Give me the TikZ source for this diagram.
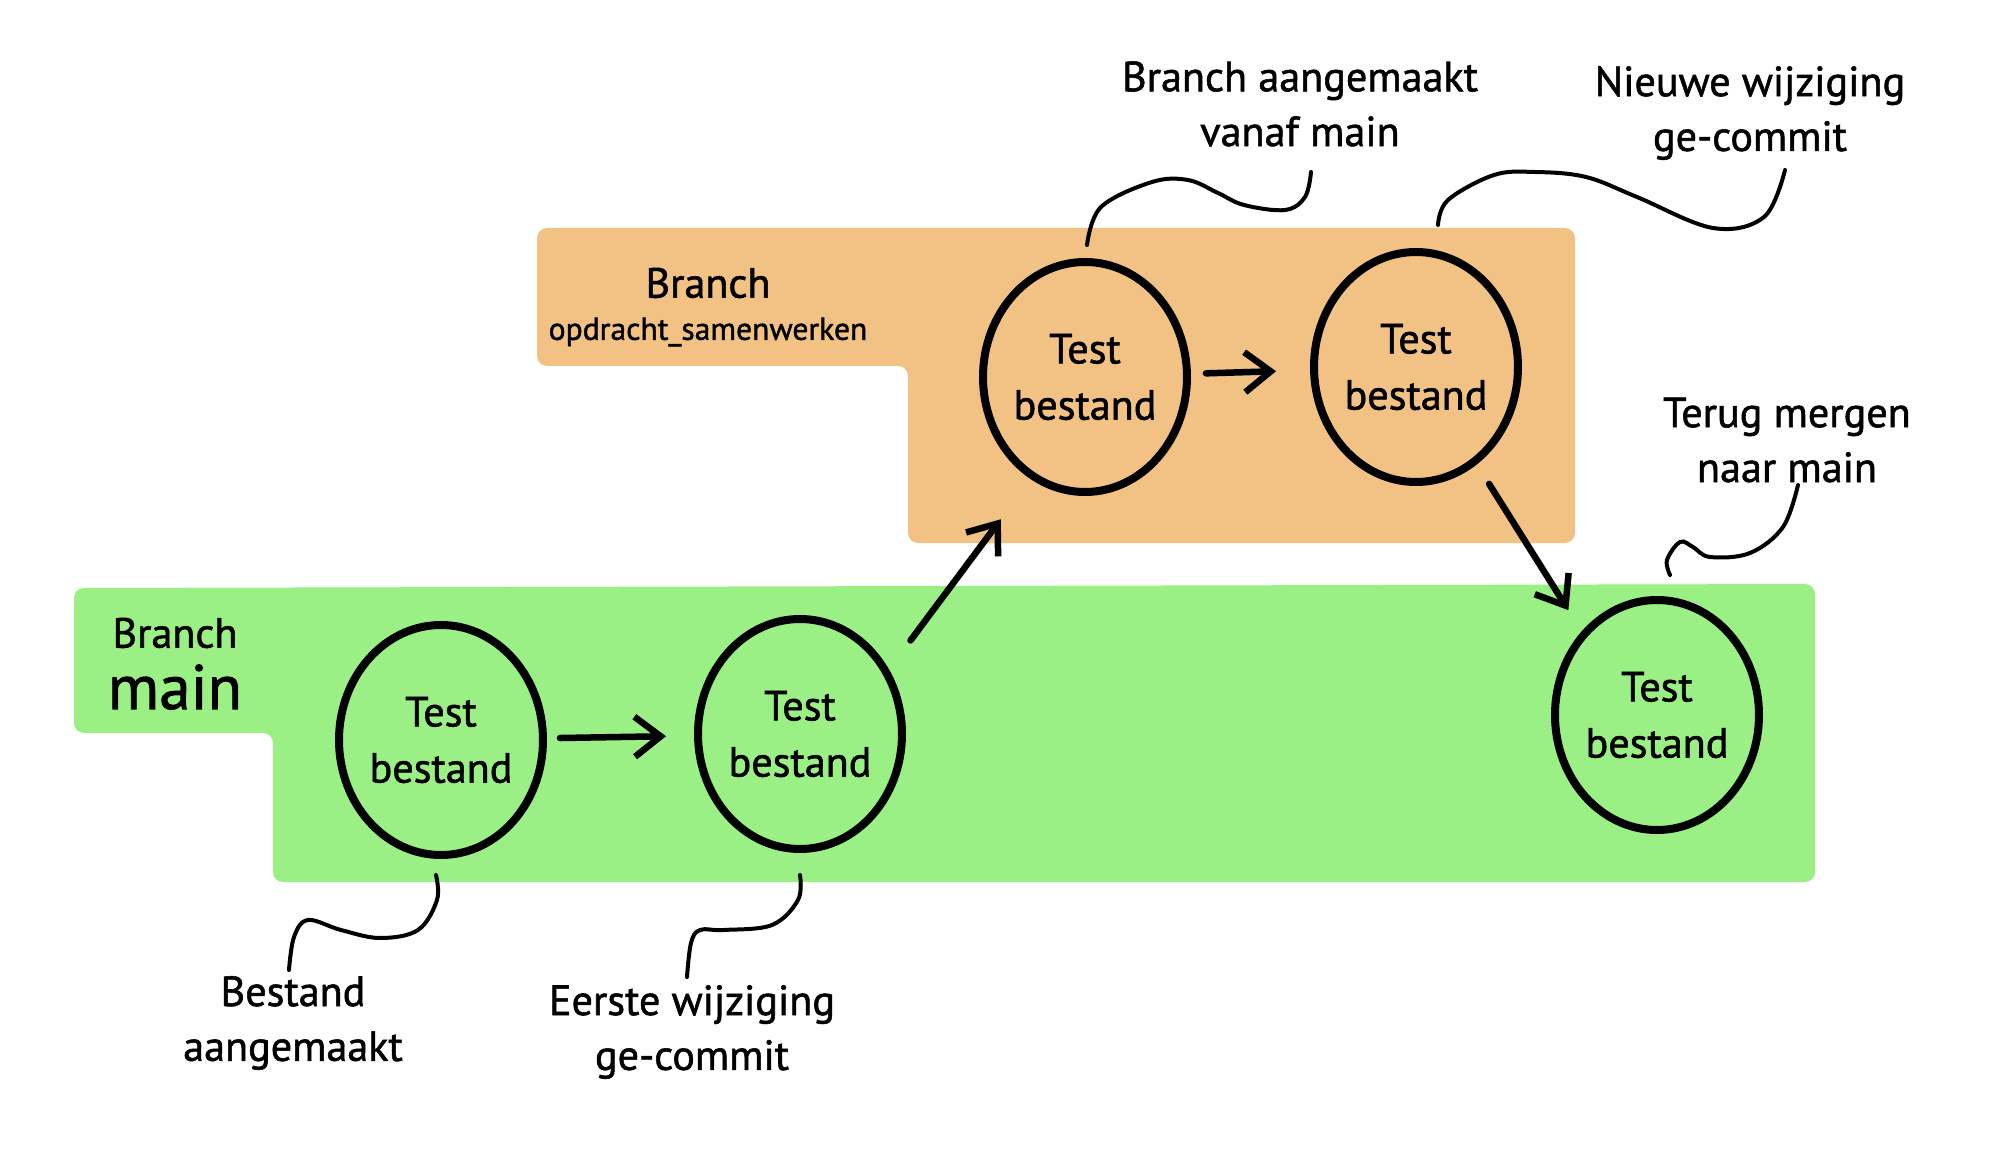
\documentclass[tikz,border=0pt]{standalone}
\usepackage{fontspec}
\setmainfont{PT Sans}[FakeBold=1.3]
\usepackage{tikz}
\usetikzlibrary{arrows.meta,positioning,shapes.geometric}
\definecolor{oranje}{HTML}{F1C283}
\definecolor{groen}{HTML}{9AF084}
\tikzstyle{commit} = [draw, ellipse, line width=0.8mm, minimum width=20.4mm, minimum height=23mm, inner sep=0pt, align=center, font=\fontsize{12}{16}\selectfont]
\tikzstyle{pijl} = [line width=0.65mm, line cap=round, -{Straight Barb[length=2.6mm,width=4mm]}]
\tikzstyle{krul} = [line width=0.4mm, line cap=round]
\tikzstyle{uitleg} = [align=center, font=\fontsize{12}{15.6}\selectfont]
\tikzstyle{titel} = [inner sep=0pt, font=\fontsize{12}{14}\selectfont]

\begin{document}
\begin{tikzpicture}[x=0.1mm, y=-0.1mm, node distance=1.3cm]
		\useasboundingbox (0,0) rectangle (1992,1171);
		% vlakken
		\fill[oranje, rounded corners=1mm] (537,228) -- (1575,228) -- (1575,543) -- (908,543) -- (908,366) -- (537,366) -- cycle;	% branch opdracht_samenwerken
		\fill[groen, rounded corners=1mm] (74,588) -- (1815,584) -- (1815,882) -- (273,882) -- (273,733) -- (74,733) -- cycle;		% branch main
		
		% nodes
		\node[titel] (oranjetitel) at (708,283) {Branch};						% titel oranje vlak
		\node[titel, below of=oranjetitel, node distance=4.9mm] (oranjenaam) {\fontsize{9}{11}\selectfont opdracht\_samenwerken};
		\node[titel] (groentitel) at (175,633) {Branch};						% titel groen vlak
		\node[titel, below of=groentitel, node distance=5.4mm] (groennaam) {\fontsize{18}{20}\selectfont main};
		\node[commit] (c1) at (441,740) {Test\\bestand};						% eerste commit
		\node[commit, right of=c1, node distance=35.9mm, yshift=0.6mm] (c2) {Test\\bestand};
		\node[commit] (c3) at (1085,377) {Test\\bestand};						% commit op branch
		\node[commit, right of=c3, node distance=33.1mm, yshift=1mm] (c4) {Test\\bestand};
		\node[commit] (c5) at (1657,715) {Test\\bestand};						% merge commit
		\node[uitleg] (l1) at (293,1023) {Bestand\\aangemaakt};
		\node[uitleg] (l2) at (692,1032) {Eerste wijziging\\ge-commit};
		\node[uitleg] (l3) at (1300,104) {Branch aangemaakt\\vanaf main};
		\node[uitleg] (l4) at (1750,113) {Nieuwe wijziging\\ge-commit};
		\node[uitleg] (l5) at (1787,440) {Terug mergen\\naar main};
		\coordinate (k1) at (289,970);		% eindpunten krullen
		\coordinate (k2) at (687,977);
		\coordinate (k3) at (1311,172);
		\coordinate (k4) at (1785,170);
		\coordinate (k5) at (1798,485);
		
		% pijlen
		\draw[pijl, shorten <=1.3mm, shorten >=2.8mm] (c1) to (c2);
		\draw[pijl, shorten <=3.6mm, shorten >=5mm] (c2.36) to (c3.242);
		\draw[pijl, shorten <=1.5mm, shorten >=3.4mm] (c3) to (c4);
		\draw[pijl, shorten <=2.3mm, shorten >=2.5mm] (c4.302) to (c5.132);
		
		% krullen naar de uitleg
		\draw[krul] plot[smooth, tension=0.6] coordinates {([xshift=-0.5mm,yshift=-1.6mm]c1.south) (437,900) (418,930) (380,938) (341,930) (308,920) (294,937) (k1)};
		\draw[krul] plot[smooth, tension=0.6] coordinates {([yshift=-2.2mm]c2.south) (798,900) (772,925) (724,930) (700,930) (691,943) (k2)};
		\draw[krul] plot[smooth, tension=0.6] coordinates {([xshift=0.2mm,yshift=1.3mm]c3.north) (1101,207) (1152,182) (1188,180) (1218,193) (1244,205) (1285,210) (1305,197) (k3)};
		\draw[krul] plot[smooth, tension=0.6] coordinates {([xshift=2.2mm,yshift=2.3mm]c4.north) (1448,200) (1494,175) (1535,172) (1586,177) (1637,197) (1713,228) (1764,217) (k4)};
		\draw[krul] plot[smooth, tension=0.6] coordinates {([xshift=1.3mm,yshift=2.1mm]c5.north) (1667,560) (1680,542) (1693,547) (1710,557) (1750,553) (1783,527) (k5)};
\end{tikzpicture}
\end{document}
